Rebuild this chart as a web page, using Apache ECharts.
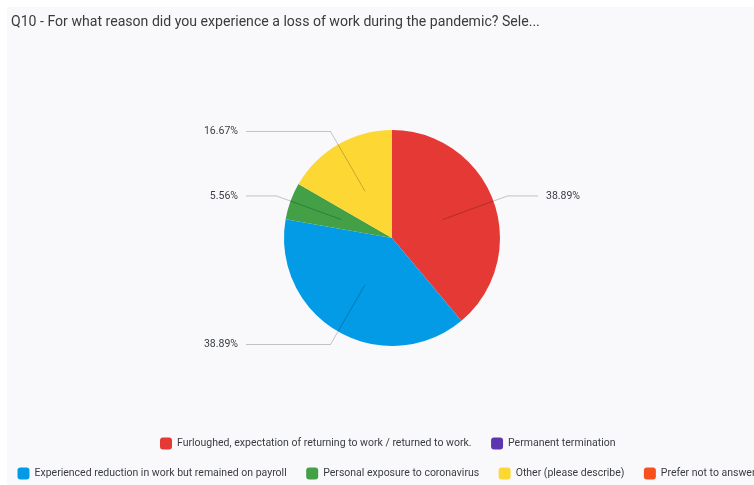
<!DOCTYPE html>
<html>
<head>
<meta charset="utf-8">
<title>Q10 - Loss of work during the pandemic</title>
<script src="https://cdn.jsdelivr.net/npm/echarts@6/dist/echarts.min.js"></script>
<style>
  html, body { margin: 0; padding: 0; background: #ffffff; }
  #chart { width: 754px; height: 485px; }
</style>
</head>
<body>
<div id="chart"></div>
<script>
// Question heading
const questionTitle = 'Q10 - For what reason did you experience a loss of work during the pandemic? Sele...';

// Answer options in pie order (clockwise from 12 o'clock)
const categories = [
  'Furloughed, expectation of returning to work / returned to work.',
  'Permanent termination',
  'Experienced reduction in work but remained on payroll',
  'Personal exposure to coronavirus',
  'Other (please describe)',
  'Prefer not to answer'
];

// Number of respondents choosing each option
const counts = [7, 0, 7, 1, 3, 0];

// Slice / legend colours per option
const sliceColors = ['#E53935', '#5E35B1', '#039BE5', '#43A047', '#FDD835', '#F4511E'];

// Legend rows
const legendRowOne = [categories[0], categories[1]];
const legendRowTwo = [categories[2], categories[3], categories[4], categories[5]];

const uiFont = "Roboto, 'Liberation Sans', Arial, sans-serif";
const textColor = '#3a3d40';

const pieCenter = [392, 238];
const pieRadius = 108;
const lineInnerRadius = pieRadius / 2;   // leader lines start halfway into a slice
const lineFirstLeg = 69;                 // radial leg of each leader line
const lineEndLeft = 246;                 // x where left-side leader lines stop
const lineEndRight = 538;                // x where right-side leader lines stop

const total = counts.reduce((a, b) => a + b, 0);

const sliceData = categories.map((name, i) => ({
  name: name,
  value: counts[i],
  itemStyle: { color: sliceColors[i] }
}));

// A transparent inner ring carries the percentage labels so that
// their leader lines start inside each slice; the horizontal leg is
// sized so all lines on one side finish at the same x.
let running = 0;
const labelData = [];
categories.forEach((name, i) => {
  const v = counts[i];
  const mid = (running + v / 2) / total * Math.PI * 2;
  running += v;
  if (v <= 0) return;
  const bendX = pieCenter[0] + (lineInnerRadius + lineFirstLeg) * Math.sin(mid);
  const leg2 = Math.sin(mid) < 0 ? bendX - lineEndLeft : lineEndRight - bendX;
  labelData.push({
    name: name,
    value: v,
    itemStyle: { color: 'rgba(0,0,0,0)' },
    labelLine: { length2: Math.max(leg2, 4) }
  });
});

const chart = echarts.init(document.getElementById('chart'), null, { renderer: 'canvas' });

const legendBase = {
  orient: 'horizontal',
  width: 900,
  padding: 0,
  itemGap: 19.5,
  itemWidth: 12,
  itemHeight: 12,
  icon: 'roundRect',
  selectedMode: false,
  textStyle: { fontFamily: uiFont, fontSize: 10.5, color: textColor, lineHeight: 14 }
};

chart.setOption({
  animation: false,
  backgroundColor: '#ffffff',
  color: sliceColors,
  graphic: [{
    type: 'rect',
    z: -10,
    silent: true,
    shape: { x: 7, y: 7, width: 760, height: 490 },
    style: { fill: '#f9f9fb' }
  }],
  title: {
    text: questionTitle,
    left: 11,
    top: 14,
    padding: 0,
    textStyle: {
      fontFamily: uiFont,
      fontSize: 14.1,
      fontWeight: 'normal',
      color: '#3b3b3b',
      lineHeight: 16
    }
  },
  legend: [
    Object.assign({}, legendBase, { data: legendRowOne, left: 160, top: 436.5 }),
    Object.assign({}, legendBase, { data: legendRowTwo, left: 17.5, top: 466.5 })
  ],
  series: [
    {
      name: 'Responses',
      type: 'pie',
      center: pieCenter,
      radius: pieRadius,
      startAngle: 90,
      clockwise: true,
      silent: true,
      label: { show: false },
      labelLine: { show: false },
      emphasis: { disabled: true },
      data: sliceData
    },
    {
      name: 'Share',
      type: 'pie',
      z: 3,
      center: pieCenter,
      radius: lineInnerRadius,
      startAngle: 90,
      clockwise: true,
      silent: true,
      avoidLabelOverlap: false,
      emphasis: { disabled: true },
      label: {
        show: true,
        position: 'outside',
        alignTo: 'none',
        distanceToLabelLine: 8,
        formatter: p => (p.value / total * 100).toFixed(2) + '%',
        fontFamily: uiFont,
        fontSize: 10.5,
        color: textColor
      },
      labelLine: {
        show: true,
        length: lineFirstLeg,
        length2: 30,
        lineStyle: { color: 'rgba(0,0,0,0.22)', width: 1 }
      },
      data: labelData
    }
  ]
});
</script>
</body>
</html>
